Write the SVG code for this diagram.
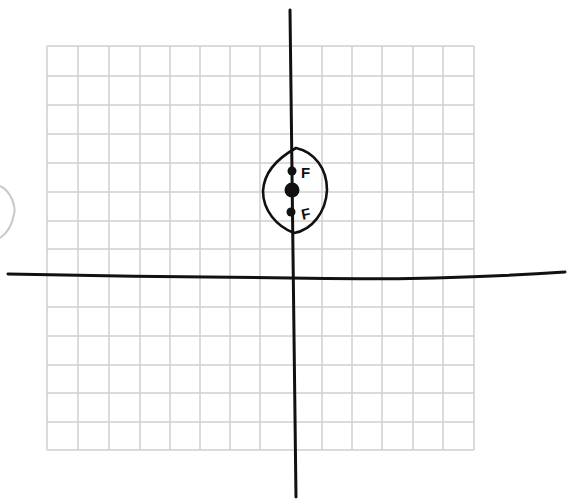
<svg xmlns="http://www.w3.org/2000/svg" width="569" height="502" viewBox="0 0 569 502">
<style>
.grid line{stroke:#cfcfcf;stroke-width:1.5}
.axis{fill:none;stroke:#111;stroke-width:3;stroke-linecap:round}
.curve{fill:none;stroke:#111;stroke-width:2.6}
.lbl{font-family:"Liberation Sans",Arial,sans-serif;font-weight:bold;font-size:15px;fill:#111}
</style>
<rect width="569" height="502" fill="#fff"/>
<g id="grid" class="grid">
<line x1="47" y1="46" x2="47" y2="450"/>
<line x1="78" y1="46" x2="78" y2="450"/>
<line x1="109" y1="46" x2="109" y2="450"/>
<line x1="140" y1="46" x2="140" y2="450"/>
<line x1="170" y1="46" x2="170" y2="450"/>
<line x1="200" y1="46" x2="200" y2="450"/>
<line x1="230" y1="46" x2="230" y2="450"/>
<line x1="260" y1="46" x2="260" y2="450"/>
<line x1="322" y1="46" x2="322" y2="450"/>
<line x1="352" y1="46" x2="352" y2="450"/>
<line x1="382" y1="46" x2="382" y2="450"/>
<line x1="413" y1="46" x2="413" y2="450"/>
<line x1="443" y1="46" x2="443" y2="450"/>
<line x1="474" y1="46" x2="474" y2="450"/>
<line x1="47" y1="46" x2="474" y2="46"/>
<line x1="47" y1="76" x2="474" y2="76"/>
<line x1="47" y1="105" x2="474" y2="105"/>
<line x1="47" y1="134" x2="474" y2="134"/>
<line x1="47" y1="163" x2="474" y2="163"/>
<line x1="47" y1="192" x2="474" y2="192"/>
<line x1="47" y1="221" x2="474" y2="221"/>
<line x1="47" y1="249" x2="474" y2="249"/>
<line x1="47" y1="307" x2="474" y2="307"/>
<line x1="47" y1="336" x2="474" y2="336"/>
<line x1="47" y1="365" x2="474" y2="365"/>
<line x1="47" y1="393" x2="474" y2="393"/>
<line x1="47" y1="422" x2="474" y2="422"/>
<line x1="47" y1="450" x2="474" y2="450"/>
</g>
<path id="edge-circle" d="M0,186 C12,192 16,208 14,214 C12,226 6,234 0,238" fill="none" stroke="#c8c8c8" stroke-width="2"/>
<g id="axes">
<path class="axis" d="M8,274 C100,276 200,277 290,278 C380,280 460,279 565,272"/>
<path class="axis" d="M290,10 C291,150 293,300 296,497"/>
</g>
<g id="ellipse">
<path class="curve" d="M296,148 C278,158 264,172 263,191 C263,210 276,226 294,233 C312,230 326,212 327,190 C327,168 314,152 296,148 Z"/>
<circle cx="292" cy="171" r="4.5" fill="#111"/>
<circle cx="292" cy="190" r="7.5" fill="#111"/>
<circle cx="291" cy="212" r="4.5" fill="#111"/>
<text class="lbl" x="301" y="178">F</text>
<text class="lbl" x="301" y="219" transform="rotate(-12 307 212)">F</text>
</g>
</svg>
